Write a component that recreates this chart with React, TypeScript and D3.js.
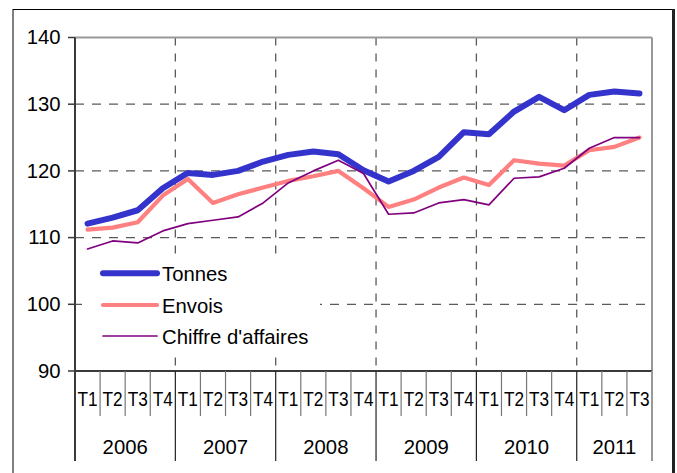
import React from "react";
import * as d3 from "d3";

const years = ["2006", "2007", "2008", "2009", "2010", "2011"];
const quartersPerYear = [4, 4, 4, 4, 4, 3];
const quarterNames = ["T1", "T2", "T3", "T4"];

const tonnes = [112.1, 113.0, 114.1, 117.4, 119.7, 119.4, 120.0, 121.4, 122.4, 122.9, 122.5, 120.1, 118.4, 120.0, 122.1, 125.8, 125.5, 128.9, 131.1, 129.1, 131.4, 131.9, 131.6];
const envois = [111.2, 111.5, 112.3, 116.3, 118.8, 115.2, 116.5, 117.5, 118.5, 119.2, 120.0, 117.4, 114.6, 115.7, 117.5, 119.0, 117.9, 121.6, 121.1, 120.8, 123.1, 123.6, 125.0];
const chiffre = [108.3, 109.5, 109.2, 111.0, 112.1, 112.6, 113.1, 115.2, 118.2, 120.0, 121.6, 119.6, 113.5, 113.7, 115.2, 115.7, 114.9, 118.9, 119.1, 120.4, 123.4, 125.0, 125.0];

const yTicks = [90, 100, 110, 120, 130, 140];

const seriesNames = ["Tonnes", "Envois", "Chiffre d'affaires"];

const categories: { key: string; q: string; year: string }[] = [];
years.forEach((y, yi) => {
  for (let q = 0; q < quartersPerYear[yi]; q++) {
    categories.push({ key: `${y}-${quarterNames[q]}`, q: quarterNames[q], year: y });
  }
});

export default function App() {
  const left = 75;
  const right = 652;
  const top = 37.5;
  const bottom = 371;
  const font = "'Liberation Sans', Arial, Helvetica, sans-serif";
  const fs = 20.3;

  const x = d3.scaleBand<string>().domain(categories.map((c) => c.key)).range([left, right]).padding(0);
  const y = d3.scaleLinear().domain([90, 140]).range([bottom, top]);
  const cx = (i: number) => (x(categories[i].key) as number) + x.bandwidth() / 2;

  const line = d3
    .line<number>()
    .x((_, i) => cx(i))
    .y((d) => y(d));

  const yearStarts: number[] = [];
  let acc = 0;
  years.forEach((_, yi) => {
    yearStarts.push(acc);
    acc += quartersPerYear[yi];
  });
  const bx = (idx: number) => (idx >= categories.length ? right : (x(categories[idx].key) as number));
  const yearBounds = yearStarts.map((s, yi) => [bx(s), bx(s + quartersPerYear[yi])]);

  const series = [
    { name: seriesNames[0], data: tonnes, color: "#3434CC", width: 6 },
    { name: seriesNames[1], data: envois, color: "#FF8080", width: 4.2 },
    { name: seriesNames[2], data: chiffre, color: "#800080", width: 1.7 },
  ];

  const gridColor = "#5a5a5a";

  return (
    <svg width={677} height={473} style={{ position: "absolute", left: 0, top: 0, background: "#fff" }}>
      <rect x={13} y={9.5} width={660} height={480} fill="none" stroke="#000" strokeWidth={1} />
      <line x1={673.5} x2={673.5} y1={9} y2={473} stroke="#222" strokeWidth={3} />

      {yTicks
        .filter((t) => t !== 90 && t !== 140)
        .map((t) => (
          <line key={"h" + t} x1={left} x2={right} y1={y(t)} y2={y(t)} stroke={gridColor} strokeWidth={1.3} strokeDasharray="9,8" />
        ))}
      {yearBounds.slice(1).map((b, i) => (
        <line key={"v" + i} x1={b[0]} x2={b[0]} y1={top} y2={bottom} stroke={gridColor} strokeWidth={1.3} strokeDasharray="8,8" />
      ))}

      <line x1={left} x2={right} y1={top} y2={top} stroke="#999" strokeWidth={2} />
      <line x1={right} x2={right} y1={top} y2={bottom} stroke="#999" strokeWidth={2} />

      <rect x={82} y={258} width={238} height={93} fill="#fff" />

      {series.map((s) => (
        <path key={s.name} d={line(s.data) || ""} fill="none" stroke={s.color} strokeWidth={s.width} strokeLinejoin="round" strokeLinecap="round" />
      ))}

      {series.map((s, i) => {
        const ly = [273.3, 305, 336][i];
        return (
          <g key={"lg" + i}>
            <line x1={103} x2={157} y1={ly} y2={ly} stroke={s.color} strokeWidth={s.width} strokeLinecap="round" />
            <text x={162} y={ly + 7.7} fontFamily={font} fontSize={fs} fill="#000">
              {s.name}
            </text>
          </g>
        );
      })}

      <line x1={left} x2={left} y1={top} y2={461} stroke="#3a3a3a" strokeWidth={2} />
      {yTicks.map((t) => (
        <g key={"yt" + t}>
          <line x1={68} x2={left} y1={y(t)} y2={y(t)} stroke="#3a3a3a" strokeWidth={1.5} />
          <text x={60.5} y={y(t) + 6.8} textAnchor="end" fontFamily={font} fontSize={fs} fill="#000">
            {t}
          </text>
        </g>
      ))}

      <line x1={left} x2={right} y1={bottom} y2={bottom} stroke="#3a3a3a" strokeWidth={2} />
      {categories.map((c, i) => {
        const x0 = x(c.key) as number;
        return (
          <g key={"q" + i}>
            {c.q !== "T1" && <line x1={x0} x2={x0} y1={bottom} y2={416} stroke="#777" strokeWidth={1.2} />}
            <text
              x={0}
              y={0}
              textAnchor="middle"
              fontFamily={font}
              fontSize={21}
              fill="#000"
              transform={`translate(${cx(i)},406) scale(0.82,1)`}
            >
              {c.q}
            </text>
          </g>
        );
      })}
      {yearBounds.map((b, yi) => (
        <g key={"yr" + yi}>
          <line x1={b[1]} x2={b[1]} y1={bottom} y2={461} stroke={yi === years.length - 1 ? "#999" : "#222"} strokeWidth={yi === years.length - 1 ? 2 : 1.2} />
          <text x={(b[0] + b[1]) / 2} y={453.5} textAnchor="middle" fontFamily={font} fontSize={fs} fill="#000">
            {years[yi]}
          </text>
        </g>
      ))}
    </svg>
  );
}
